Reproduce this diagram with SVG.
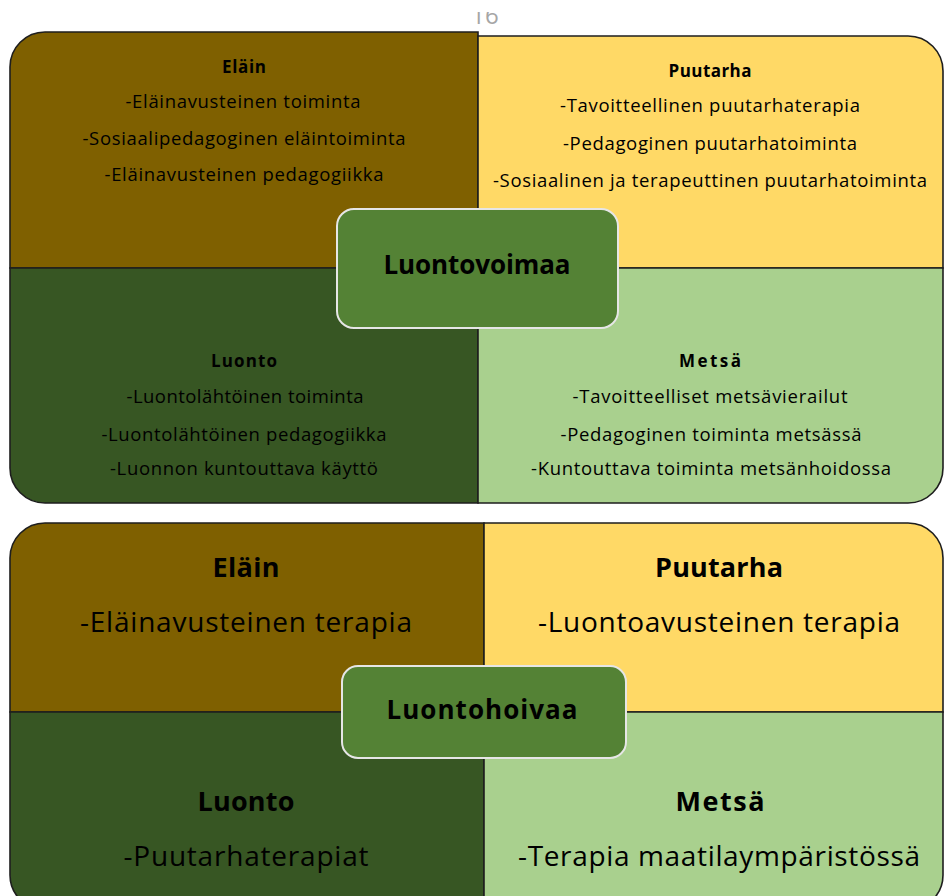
<svg xmlns="http://www.w3.org/2000/svg" width="945" height="896" viewBox="0 0 945 896">
<defs>
<style>
.q{stroke:#1e1e1e;stroke-width:1.6}
.c1{fill:#7F6000}.c2{fill:#FFD966}.c3{fill:#375623}.c4{fill:#A9D08E}
.ctr{fill:#548235;stroke:#e6e6e6;stroke-width:2}
text{font-family:"Open Sans","Liberation Sans",sans-serif;fill:#000;text-anchor:middle}
.s{font-size:18.5px}
.sh{font-size:17px;font-weight:bold}
.l{font-size:28px}
.lh{font-size:27px;font-weight:bold}
.ct{font-size:26px;font-weight:bold}
</style>
<clipPath id="pg"><rect x="0" y="12" width="945" height="30"/></clipPath>
</defs>
<rect width="945" height="896" fill="#fff"/>
<text x="485" y="24" clip-path="url(#pg)" style="font-size:24px;fill:#a6a6a6">16</text>

<g id="top-matrix">
<g id="q-elain-1">
<path class="q c1" d="M10,67 A35,35 0 0 1 45,32 H478 V268 H10 Z"/>
<text class="sh" x="244" y="73" textLength="44">Eläin</text>
<text class="s" x="243" y="108" textLength="235">-Eläinavusteinen toiminta</text>
<text class="s" x="244" y="145" textLength="323">-Sosiaalipedagoginen eläintoiminta</text>
<text class="s" x="244" y="181" textLength="279">-Eläinavusteinen pedagogiikka</text>
</g>
<g id="q-puutarha-1">
<path class="q c2" d="M478,36 H908 A35,35 0 0 1 943,71 V268 H478 Z"/>
<text class="sh" x="710" y="77" textLength="83">Puutarha</text>
<text class="s" x="710" y="112" textLength="300">-Tavoitteellinen puutarhaterapia</text>
<text class="s" x="710" y="150" textLength="294">-Pedagoginen puutarhatoiminta</text>
<text class="s" x="710" y="187" textLength="434">-Sosiaalinen ja terapeuttinen puutarhatoiminta</text>
</g>
<g id="q-luonto-1">
<path class="q c3" d="M10,268 H478 V503 H45 A35,35 0 0 1 10,468 Z"/>
<text class="sh" x="244" y="367" textLength="66">Luonto</text>
<text class="s" x="245" y="403" textLength="237">-Luontolähtöinen toiminta</text>
<text class="s" x="244" y="441" textLength="285">-Luontolähtöinen pedagogiikka</text>
<text class="s" x="244" y="475" textLength="268">-Luonnon kuntouttava käyttö</text>
</g>
<g id="q-metsa-1">
<path class="q c4" d="M478,268 H943 V468 A35,35 0 0 1 908,503 H478 Z"/>
<text class="sh" x="710" y="367" textLength="62">Metsä</text>
<text class="s" x="710" y="403" textLength="275">-Tavoitteelliset metsävierailut</text>
<text class="s" x="711" y="441" textLength="301">-Pedagoginen toiminta metsässä</text>
<text class="s" x="711" y="475" textLength="360">-Kuntouttava toiminta metsänhoidossa</text>
</g>
<g id="center-luontovoimaa">
<rect class="ctr" x="337" y="209" width="281" height="119" rx="17"/>
<text class="ct" x="477" y="274" textLength="187">Luontovoimaa</text>
</g>
</g>

<g id="bottom-matrix">
<g id="q-elain-2">
<path class="q c1" d="M10,558 A35,35 0 0 1 45,523 H484 V712 H10 Z"/>
<text class="lh" x="246" y="577" textLength="67">Eläin</text>
<text class="l" x="246" y="632" textLength="332">-Eläinavusteinen terapia</text>
</g>
<g id="q-puutarha-2">
<path class="q c2" d="M484,523 H908 A35,35 0 0 1 943,558 V712 H484 Z"/>
<text class="lh" x="719" y="577" textLength="128">Puutarha</text>
<text class="l" x="719" y="632" textLength="362">-Luontoavusteinen terapia</text>
</g>
<g id="q-luonto-2">
<path class="q c3" d="M10,712 H484 V910 H45 A35,35 0 0 1 10,875 Z"/>
<text class="lh" x="246" y="811" textLength="97">Luonto</text>
<text class="l" x="246" y="866" textLength="245">-Puutarhaterapiat</text>
</g>
<g id="q-metsa-2">
<path class="q c4" d="M484,712 H943 V875 A35,35 0 0 1 908,910 H484 Z"/>
<text class="lh" x="720" y="811" textLength="89">Metsä</text>
<text class="l" x="719" y="866" textLength="402">-Terapia maatilaympäristössä</text>
</g>
<g id="center-luontohoivaa">
<rect class="ctr" x="342" y="666" width="284" height="92" rx="16"/>
<text class="ct" x="482" y="719" textLength="191">Luontohoivaa</text>
</g>
</g>
<g id="connectors"/>
</svg>
